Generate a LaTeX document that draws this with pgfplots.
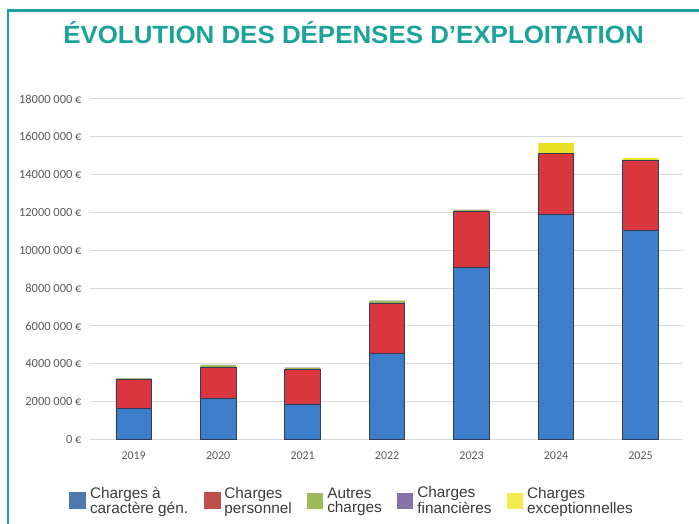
\documentclass[border=0pt]{standalone}
\usepackage{fontspec}
\setmainfont{Liberation Sans}
\newfontfamily\titlefont{Liberation Sans}[FakeStretch=1.04]
\newfontfamily\tickfont{Carlito}
\usepackage{pgfplots}
\pgfplotsset{compat=1.18}

\definecolor{framecol}{HTML}{1BA39A}
\definecolor{gridgray}{HTML}{D9D9D9}
\definecolor{ticktxt}{HTML}{595959}
\definecolor{legtxt}{HTML}{3A3A3A}
\definecolor{bluebar}{HTML}{3D7ECB}
\definecolor{barline}{HTML}{353A55}
\definecolor{redbar}{HTML}{D9363D}
\definecolor{greenbar}{HTML}{9BBB59}
\definecolor{purplebar}{HTML}{8064A2}
\definecolor{yellowbar}{HTML}{E8E024}
\definecolor{legblue}{HTML}{4F79AC}
\definecolor{legred}{HTML}{C0504D}
\definecolor{leggreen}{HTML}{9BBB59}
\definecolor{legpurple}{HTML}{8672A6}
\definecolor{legyellow}{HTML}{F2EA4E}

\pgfplotstableread{
x gen pers autres fin exc
0 1630000 1550000 40000 10000 0
1 2170000 1620000 130000 10000 0
2 1870000 1830000 80000 10000 0
3 4550000 2650000 130000 10000 0
4 9100000 2940000 90000 10000 0
5 11870000 3230000 30000 10000 530000
6 11070000 3670000 20000 10000 100000
}\depenses

\newcommand{\legsq}[1]{\fill[#1] (0bp,-8bp) rectangle (16bp,8bp);}

\begin{document}
\begin{tikzpicture}[x=1bp,y=1bp]
\useasboundingbox (0,0) rectangle (699,524);
\draw[framecol, line width=2.3bp] (7.8,-3) -- (7.8,513.5) -- (703,513.5);
\node[anchor=base, text=framecol, inner sep=0,
  font=\titlefont\fontsize{25}{25}\selectfont\bfseries]
  at (353.5,480) {ÉVOLUTION DES DÉPENSES D’EXPLOITATION};
\begin{axis}[
  at={(90bp,84.7bp)}, anchor=south west,
  scale only axis, width=593bp, height=340.3bp,
  xmin=-0.517, xmax=6.503, ymin=0, ymax=18000000,
  ybar stacked, bar width=35.5bp,
  xtick={0,...,6}, xticklabels={2019,2020,2021,2022,2023,2024,2025},
  ytick={0,2000000,4000000,6000000,8000000,10000000,12000000,14000000,16000000,18000000},
  yticklabels={0 €,2000 000 €,4000 000 €,6000 000 €,8000 000 €,10000 000 €,12000 000 €,14000 000 €,16000 000 €,18000 000 €},
  scaled y ticks=false,
  ymajorgrids, grid style={draw=gridgray, line width=1bp},
  axis line style={draw=none}, major tick length=0,
  yticklabel style={font=\tickfont\fontsize{12.5}{13}\selectfont, text=ticktxt,
    anchor=east, inner xsep=0, xshift=-8.3bp},
  xticklabel style={font=\tickfont\fontsize{12}{12}\selectfont, text=ticktxt,
    anchor=north, inner ysep=0, yshift=-12.4bp},
  legend columns=5,
  legend cell align=left,
  legend style={draw=none, fill=none, inner sep=0,
    at={(-0.0354,-0.181)}, anchor=west,
    font=\fontsize{15.4}{14}\selectfont, text=legtxt,
    cells={align=left},
    nodes={inner xsep=4bp},
    /tikz/every even column/.append style={column sep=11.5bp}},
]
\addplot[fill=bluebar, draw=barline, line width=0.8bp,
  legend image code/.code={\legsq{legblue}}]
  table[x=x, y=gen] {\depenses};
\addlegendentry{Charges à\\caractère gén.}
\addplot[fill=redbar, draw=barline, line width=0.8bp,
  legend image code/.code={\legsq{legred}}]
  table[x=x, y=pers] {\depenses};
\addlegendentry{Charges\\personnel}
\addplot[fill=greenbar, draw=none,
  legend image code/.code={\legsq{leggreen}}]
  table[x=x, y=autres] {\depenses};
\addlegendentry{Autres\\charges}
\addplot[fill=purplebar, draw=none,
  legend image code/.code={\legsq{legpurple}}]
  table[x=x, y=fin] {\depenses};
\addlegendentry{Charges\\financières}
\addplot[fill=yellowbar, draw=none,
  legend image code/.code={\legsq{legyellow}}]
  table[x=x, y=exc] {\depenses};
\addlegendentry{Charges\\exceptionnelles}
\end{axis}
\end{tikzpicture}
\end{document}
